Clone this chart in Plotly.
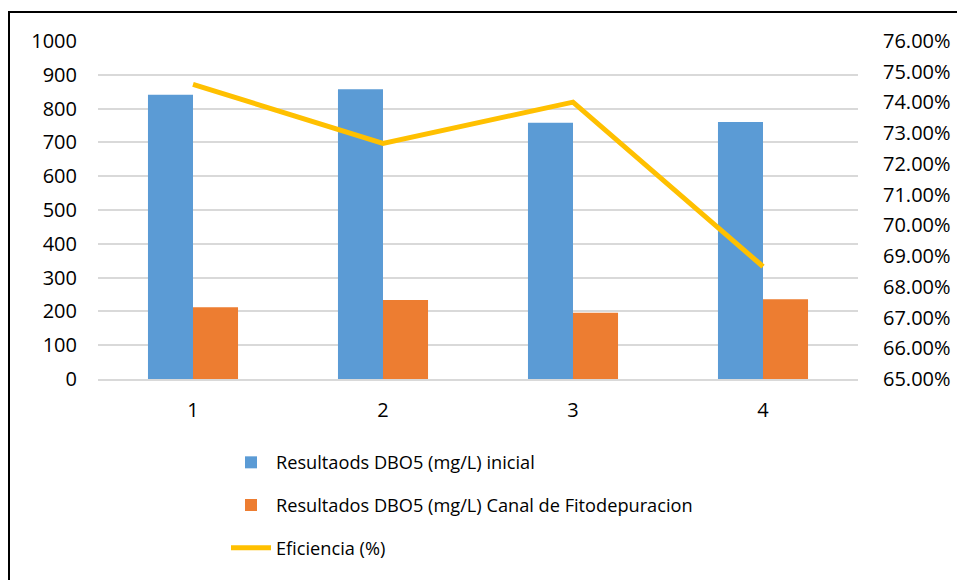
import plotly.graph_objects as go

categories = ["1", "2", "3", "4"]
dbo_inicial = [841, 857, 758, 760]
dbo_canal = [212, 234, 196, 236]
eficiencia = [0.7459, 0.7267, 0.7401, 0.6866]

names = [
    "Resultaods DBO5 (mg/L) inicial",
    "Resultados DBO5 (mg/L) Canal de Fitodepuracion",
    "Eficiencia (%)",
]

FONT = "Open Sans"
W, H = 957, 580
L, R, T, B = 98, 99, 41, 201
pw, ph = W - L - R, H - T - B

fig = go.Figure()
fig.add_trace(go.Bar(x=categories, y=dbo_inicial, name=names[0],
                     marker=dict(color="#5B9BD5", line=dict(width=0)),
                     legendgroup="a"))
fig.add_trace(go.Bar(x=categories, y=dbo_canal, name=names[1],
                     marker=dict(color="#ED7D31", line=dict(width=0)),
                     legendgroup="b"))
fig.add_trace(go.Scatter(x=categories, y=eficiencia, name=names[2], yaxis="y2",
                         mode="lines", line=dict(color="#FFC000", width=5),
                         legendgroup="c"))

def px_x(p):
    return (p - L) / pw

def px_y(p):
    return (H - B - p) / ph

fig.update_layout(
    width=W, height=H,
    margin=dict(l=L, r=R, t=T, b=B, pad=0, autoexpand=False),
    paper_bgcolor="white", plot_bgcolor="white",
    font=dict(family=FONT, size=20, color="#000000"),
    barmode="group", bargap=0.526, bargroupgap=0,
    showlegend=True,
    legend=dict(
        x=px_x(226), y=px_y(444), xanchor="left", yanchor="top",
        orientation="v", traceorder="grouped", tracegroupgap=16,
        font=dict(family=FONT, size=18.2, color="#000000"),
        bgcolor="rgba(0,0,0,0)", itemwidth=40,
    ),
    xaxis=dict(
        type="category", showgrid=False, showline=True, linecolor="#D9D9D9",
        linewidth=2, ticks="", ticklabelstandoff=12, automargin=False,
        tickfont=dict(family=FONT, size=20),
    ),
    yaxis=dict(
        range=[0, 1000], dtick=100, showgrid=True, gridcolor="#D9D9D9",
        gridwidth=2, zeroline=False, ticks="", ticklabelstandoff=20,
        automargin=False, tickfont=dict(family=FONT, size=20),
    ),
    yaxis2=dict(
        range=[0.65, 0.76], dtick=0.01, overlaying="y", side="right",
        showgrid=False, zeroline=False, tickformat=".2%", ticks="",
        ticklabelstandoff=24, automargin=False,
        tickfont=dict(family=FONT, size=20),
    ),
    shapes=[dict(
        type="rect", xref="paper", yref="paper",
        x0=px_x(9), x1=px_x(970), y0=px_y(600), y1=px_y(12),
        line=dict(color="#000000", width=2), fillcolor="rgba(0,0,0,0)",
        layer="above",
    )],
)

fig.write_html("out.html")
